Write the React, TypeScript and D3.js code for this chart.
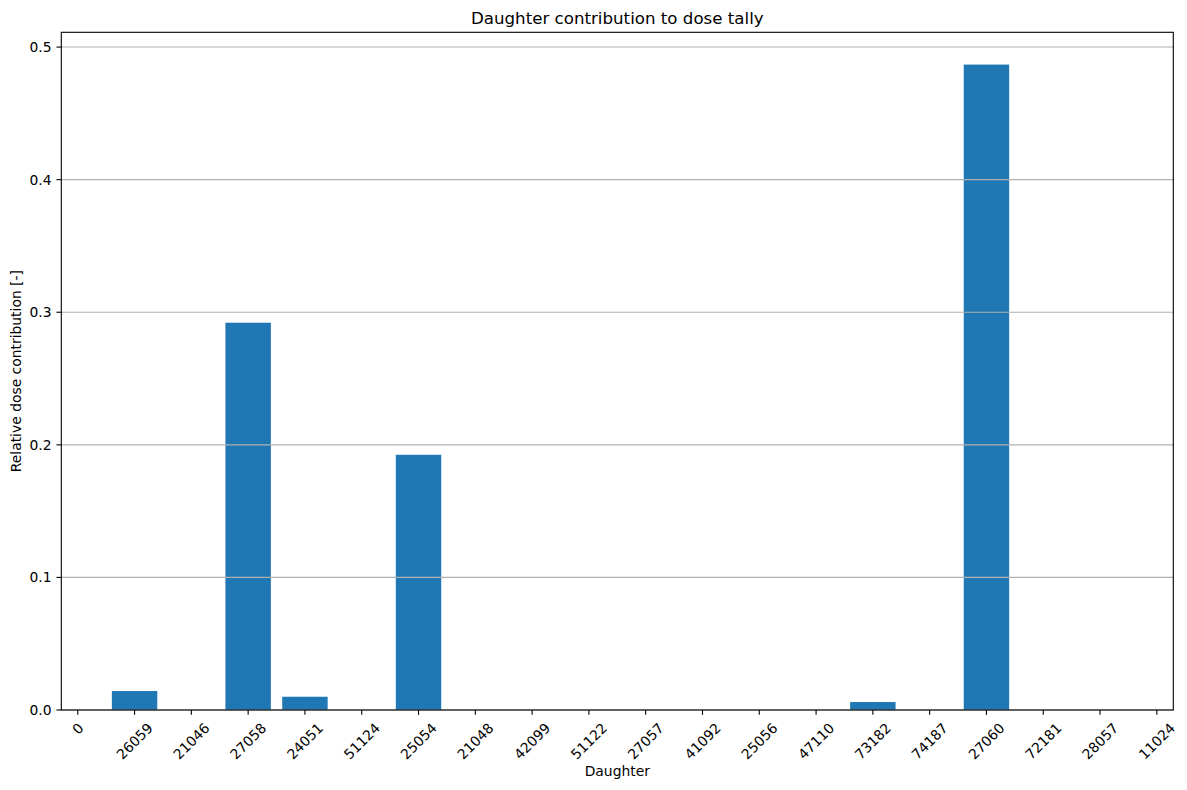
import React from "react";
import * as d3 from "d3";

const categories: string[] = [
  "0", "26059", "21046", "27058", "24051", "51124", "25054", "21048", "42099", "51122",
  "27057", "41092", "25056", "47110", "73182", "74187", "27060", "72181", "28057", "11024",
];
const values: number[] = [
  0, 0.0143, 0, 0.2921, 0.01, 0, 0.1925, 0, 0, 0,
  0, 0, 0, 0, 0.006, 0, 0.4868, 0, 0, 0,
];
const yTicks: number[] = [0, 0.1, 0.2, 0.3, 0.4, 0.5];

const W = 1187;
const H = 790;
const left = 61.3;
const right = 1173.3;
const top = 32.3;
const bottom = 710;
const FS = 13.89;
const FONT = "DejaVu Sans, sans-serif";

export default function App() {
  const x = d3.scaleLinear().domain([-0.29, categories.length - 1 + 0.29]).range([left, right]);
  const y = d3
    .scaleLinear()
    .domain([0, (d3.max(values) as number) * 1.05])
    .range([bottom, top]);
  const bw = x(0.8) - x(0);
  const tickLen = 4.86;
  const pad = 4.86;
  const textH = 1.164 * FS;

  return (
    <svg
      width={W}
      height={H}
      style={{ position: "absolute", left: 0, top: 0, background: "#fff" }}
      fontFamily={FONT}
    >
      <rect x={0} y={0} width={W} height={H} fill="#fff" />
      {/* bars */}
      {values.map((v, i) => (
        <rect
          key={"b" + i}
          x={x(i) - bw / 2}
          y={y(v)}
          width={bw}
          height={y(0) - y(v)}
          fill="#1f77b4"
        />
      ))}
      {/* grid */}
      {yTicks.map((t) => (
        <line
          key={"g" + t}
          x1={left}
          x2={right}
          y1={y(t)}
          y2={y(t)}
          stroke="#b0b0b0"
          strokeWidth={1.1}
        />
      ))}
      {/* spines */}
      <rect
        x={left}
        y={top}
        width={right - left}
        height={bottom - top}
        fill="none"
        stroke="#000"
        strokeWidth={1.1}
      />
      {/* y ticks */}
      {yTicks.map((t) => (
        <g key={"yt" + t}>
          <line x1={left - tickLen} x2={left} y1={y(t)} y2={y(t)} stroke="#000" strokeWidth={1.1} />
          <text
            x={left - tickLen - pad}
            y={y(t)}
            textAnchor="end"
            dominantBaseline="central"
            fontSize={FS}
            fill="#000"
          >
            {d3.format(".1f")(t)}
          </text>
        </g>
      ))}
      {/* x ticks */}
      {categories.map((c, i) => {
        const w = c.length * 0.636 * FS;
        const bh = (w + textH) * Math.SQRT1_2;
        const cy = bottom + tickLen + pad + bh / 2;
        return (
          <g key={"xt" + i}>
            <line x1={x(i)} x2={x(i)} y1={bottom} y2={bottom + tickLen} stroke="#000" strokeWidth={1.1} />
            <text
              transform={`translate(${x(i)},${cy}) rotate(-45)`}
              textAnchor="middle"
              dominantBaseline="central"
              fontSize={FS}
              fill="#000"
            >
              {c}
            </text>
          </g>
        );
      })}
      {/* labels */}
      <text x={(left + right) / 2} y={776} textAnchor="middle" fontSize={FS} fill="#000">
        Daughter
      </text>
      <text
        transform={`translate(20.6,${(top + bottom) / 2}) rotate(-90)`}
        textAnchor="middle"
        fontSize={FS}
        fill="#000"
      >
        Relative dose contribution [-]
      </text>
      <text x={(left + right) / 2} y={24} textAnchor="middle" fontSize={16.67} fill="#000">
        Daughter contribution to dose tally
      </text>
    </svg>
  );
}
